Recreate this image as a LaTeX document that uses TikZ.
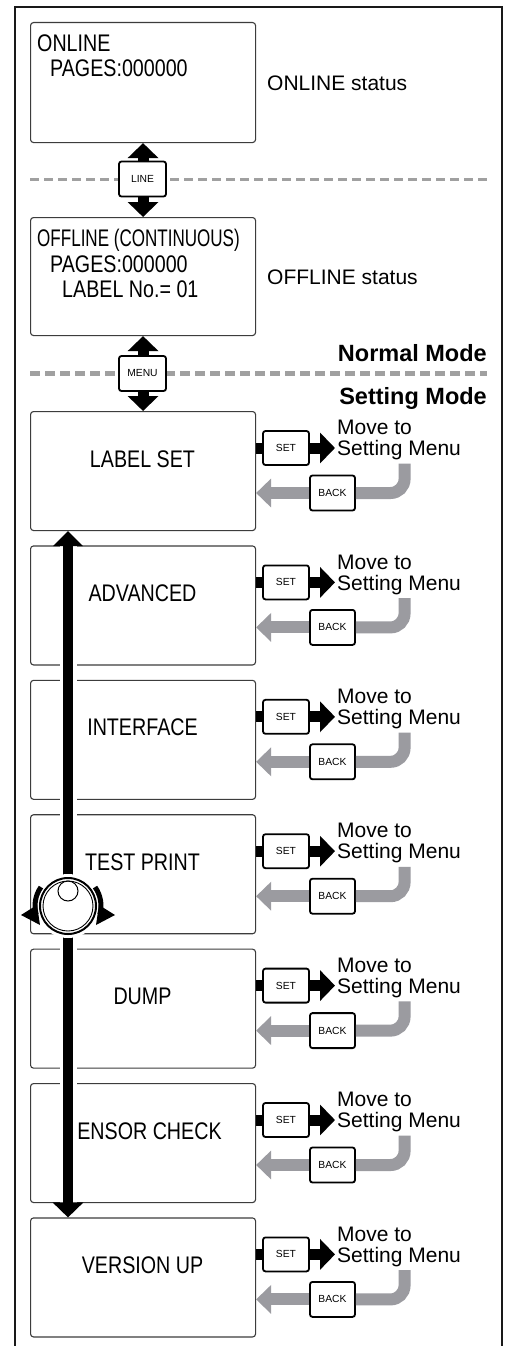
\documentclass[tikz,border=0pt]{standalone}
\usepackage{fontspec}
\setmainfont{Liberation Sans}
\newfontfamily\lcdfont[FakeStretch=0.82]{Liberation Sans}
\newfontfamily\lcdnarrow[FakeStretch=0.71]{Liberation Sans}
\usepackage{tikz}
\usetikzlibrary{arrows.meta,calc}
\usepackage{xcolor}

\definecolor{keygray}{RGB}{155,155,160}
\definecolor{dashgray}{RGB}{160,160,160}
\definecolor{boxline}{RGB}{60,60,60}

\tikzset{
  lcd/.style={draw=boxline,line width=1.1pt,rounded corners=3pt,minimum width=225,minimum height=119,anchor=north west,inner sep=0},
  lcdtext/.style={font=\lcdfont\fontsize{24}{25.5}\selectfont,inner sep=0},
  key/.style={draw,line width=1.8pt,rounded corners=2.5pt,fill=white,minimum width=46,minimum height=34,inner sep=0,font=\fontsize{10.3}{10.3}\selectfont},
  status/.style={font=\fontsize{21}{21}\selectfont,inner sep=0,anchor=base west},
  note/.style={font=\fontsize{21}{21}\selectfont,inner sep=2pt,align=left,anchor=north west},
  mode/.style={font=\bfseries\fontsize{23.5}{23.5}\selectfont,inner sep=0,anchor=base east},
  thickarrow/.style={line width=11pt},
  backarrow/.style={draw=keygray,line width=12pt},
}

\begin{document}
\begin{tikzpicture}[x=1pt,y=-1pt,>={Triangle[length=15pt,width=30pt]}]
\fill[white] (0,0) rectangle (507,1346);
\useasboundingbox (0,0) rectangle (507,1346);
\draw[line width=2pt,black!90] (15,1346) -- (15,7) -- (502,7) -- (502,1346);

% normal mode
\node[lcd,minimum height=120] (online) at (30,22) {};
\node[lcdtext,align=left,anchor=north west] (onlinetxt) at (37,34.5) {ONLINE\\\hspace*{13pt}PAGES:000000};
\node[status] (onlinest) at (267,90) {ONLINE status};
\node[lcd,minimum height=118] (offline) at (30,217) {};
\node[lcdtext,align=left,anchor=north west] (offlinetxt) at (37,229) {{\lcdnarrow OFFLINE (CONTINUOUS)}\\\hspace*{13pt}PAGES:000000\\\hspace*{25pt}LABEL No.= 01};
\node[status] (offlinest) at (267,284) {OFFLINE status};

\draw[dashgray,line width=3pt,dash pattern=on 9pt off 5pt] (30,179) -- (487,179);
\draw[thickarrow,<->] (online.south) -- (offline.north);
\node[key,minimum width=47,minimum height=35] (line) at (142.5,179) {LINE};

\draw[dashgray,line width=4.5pt,dash pattern=on 9.5pt off 5.5pt] (30,373.5) -- (487,373.5);
\node[mode] (normal) at (487,361.5) {Normal Mode};
\node[mode] (setting) at (487,404) {Setting Mode};

% setting mode
\foreach \name/\dx [count=\k from 0] in {LABEL SET/0,ADVANCED/0,INTERFACE/0,TEST PRINT/0,DUMP/0,ENSOR CHECK/7,VERSION UP/0}{
  \pgfmathsetmacro\T{411+134.4*\k}
  \node[lcd] (s\k) at (30,\T) {};
  \node[lcdtext,anchor=base] (t\k) at (142.5+\dx,\T+56) {\name};
  \node[key] (set\k) at (286,\T+37) {SET};
  \node[key,minimum width=45,minimum height=35] (back\k) at (332.5,\T+82) {BACK};
  \node[note] (m\k) at (335,\T+7) {Move to\\Setting Menu};
  \draw[thickarrow] (s\k.east |- set\k.west) -- (set\k.west);
  \draw[thickarrow,->] (set\k.east) -- (m\k.west |- set\k.east);
  \draw[backarrow,rounded corners=14pt] ([xshift=5.5pt,yshift=-1.5pt]m\k.south) |- (back\k.east);
  \draw[backarrow,-{Triangle[length=15pt,width=28pt]},keygray] (back\k.west) -- (s\k.east |- back\k.west);
}

\draw[thickarrow,<->] (online.south |- offline.south) ++(0,0) -- (s0.north);
\node[key,minimum width=47,minimum height=35] (menu) at (142.5,373.5) {MENU};

% dial
\coordinate (knob) at (68,906);
\draw[white,line width=17pt] ($(s0.south -| knob)+(0,6)$) -- ($(s6.north -| knob)+(0,-6)$);
\draw[line width=10pt,{Triangle[length=15pt,width=29pt]}-{Triangle[length=15pt,width=30pt]}] (s0.south -| knob) -- (s6.north -| knob);
\fill[white] (knob) circle[radius=32];
\draw[line width=2pt] (knob) circle[radius=28];
\draw[line width=0.9pt] (knob) circle[radius=25];
\draw[line width=1pt] ($(knob)+(0,-15)$) circle[radius=10];
\draw[line width=5pt] ($(knob)+(215:33)$) arc[start angle=215,end angle=165,radius=33];
\draw[line width=5pt] ($(knob)+(-35:33)$) arc[start angle=-35,end angle=15,radius=33];
\fill ($(knob)+(-47,9)$) -- ($(knob)+(-31,-1)$) -- ($(knob)+(-28,19)$) -- cycle;
\fill ($(knob)+(47,9)$) -- ($(knob)+(31,-1)$) -- ($(knob)+(28,19)$) -- cycle;
\end{tikzpicture}
\end{document}
